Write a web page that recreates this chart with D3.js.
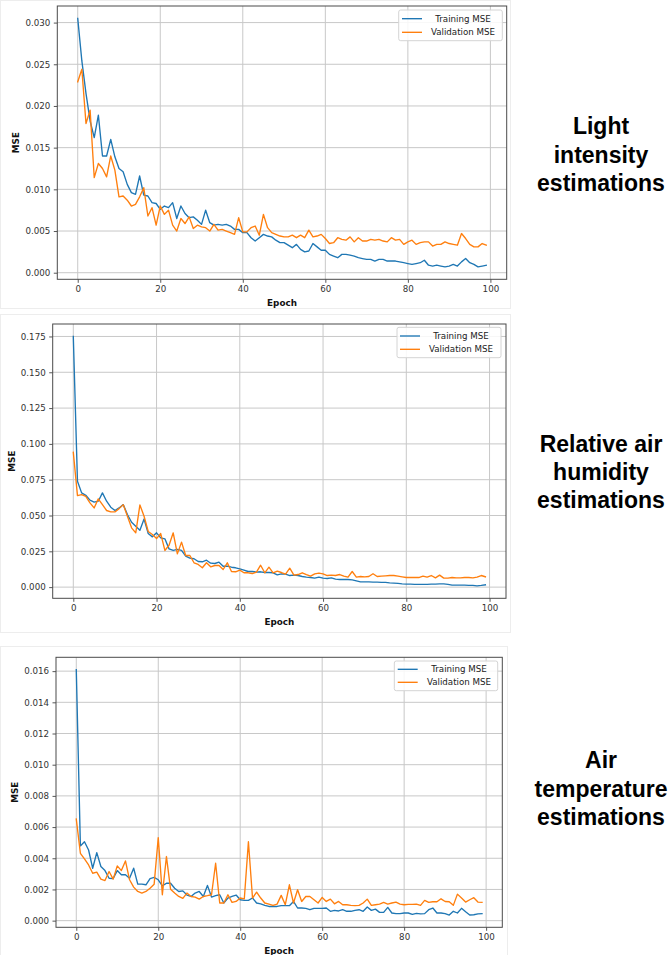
<!DOCTYPE html>
<html>
<head>
<meta charset="utf-8">
<script src="https://cdn.jsdelivr.net/npm/d3@7"></script>
<style>
  body { margin: 0; background: #ffffff; }
  svg { display: block; }
</style>
</head>
<body>
<svg id="chart" width="671" height="955"></svg>
<script>
// Epoch indices shared by every training run
const epochs = d3.range(100);

// Light intensity model: per-epoch MSE
const lightTrain = [
  0.0305,0.0254,0.0215,0.0182,0.0162,0.0189,0.0140,0.0140,0.0160,0.0139,
  0.0125,0.0121,0.0106,0.0096,0.0094,0.0116,0.0093,0.0092,0.0084,0.0083,
  0.0076,0.0080,0.0078,0.0084,0.0065,0.0080,0.0071,0.0066,0.0067,0.0063,
  0.0058,0.0075,0.0060,0.0057,0.0058,0.0057,0.0058,0.0056,0.0052,0.0052,
  0.0048,0.0048,0.0042,0.0038,0.0042,0.0046,0.0044,0.0043,0.0039,0.0036,
  0.0036,0.0033,0.0030,0.0034,0.0028,0.0025,0.0026,0.0035,0.0031,0.0027,
  0.0027,0.0022,0.0020,0.0018,0.0022,0.0022,0.0021,0.0020,0.0018,0.0017,
  0.0016,0.0016,0.0014,0.0016,0.0016,0.0014,0.0014,0.0014,0.0013,0.0012,
  0.0011,0.0010,0.0011,0.0012,0.0015,0.0009,0.0008,0.0009,0.0008,0.0007,
  0.0008,0.0010,0.0008,0.0013,0.0017,0.0012,0.0010,0.0007,0.0008,0.0009
];
const lightVal = [
  0.0229,0.0244,0.0179,0.0195,0.0114,0.0131,0.0125,0.0115,0.0140,0.0123,
  0.0091,0.0092,0.0087,0.0080,0.0082,0.0091,0.0102,0.0068,0.0078,0.0057,
  0.0080,0.0070,0.0075,0.0057,0.0050,0.0065,0.0059,0.0067,0.0053,0.0057,
  0.0055,0.0054,0.0050,0.0058,0.0051,0.0052,0.0050,0.0048,0.0046,0.0066,
  0.0049,0.0049,0.0054,0.0056,0.0045,0.0070,0.0054,0.0048,0.0046,0.0044,
  0.0043,0.0043,0.0045,0.0042,0.0045,0.0042,0.0051,0.0043,0.0044,0.0046,
  0.0041,0.0035,0.0036,0.0042,0.0040,0.0039,0.0043,0.0037,0.0042,0.0038,
  0.0038,0.0040,0.0039,0.0040,0.0038,0.0037,0.0042,0.0039,0.0040,0.0034,
  0.0037,0.0039,0.0034,0.0036,0.0037,0.0037,0.0032,0.0034,0.0034,0.0037,
  0.0035,0.0034,0.0033,0.0047,0.0041,0.0034,0.0031,0.0031,0.0035,0.0033
];

// Relative air humidity model: per-epoch MSE
const humidTrain = [
  0.1750,0.0739,0.0658,0.0641,0.0607,0.0593,0.0600,0.0658,0.0600,0.0558,
  0.0535,0.0553,0.0576,0.0507,0.0453,0.0425,0.0397,0.0476,0.0374,0.0351,
  0.0379,0.0344,0.0337,0.0267,0.0256,0.0263,0.0256,0.0216,0.0202,0.0198,
  0.0179,0.0177,0.0188,0.0167,0.0165,0.0174,0.0146,0.0146,0.0139,0.0135,
  0.0128,0.0119,0.0109,0.0109,0.0105,0.0107,0.0102,0.0102,0.0100,0.0086,
  0.0093,0.0091,0.0081,0.0084,0.0081,0.0074,0.0070,0.0067,0.0063,0.0070,
  0.0063,0.0060,0.0065,0.0056,0.0053,0.0053,0.0053,0.0051,0.0044,0.0037,
  0.0037,0.0037,0.0035,0.0035,0.0033,0.0033,0.0030,0.0028,0.0026,0.0023,
  0.0021,0.0021,0.0019,0.0019,0.0019,0.0019,0.0021,0.0021,0.0023,0.0023,
  0.0019,0.0014,0.0014,0.0014,0.0014,0.0012,0.0012,0.0009,0.0012,0.0016
];
const humidVal = [
  0.0941,0.0639,0.0646,0.0634,0.0588,0.0553,0.0616,0.0576,0.0535,0.0525,
  0.0525,0.0548,0.0576,0.0495,0.0414,0.0379,0.0574,0.0495,0.0388,0.0367,
  0.0339,0.0374,0.0256,0.0292,0.0379,0.0232,0.0314,0.0221,0.0221,0.0170,
  0.0158,0.0135,0.0170,0.0142,0.0151,0.0151,0.0123,0.0170,0.0109,0.0107,
  0.0119,0.0100,0.0100,0.0095,0.0105,0.0153,0.0100,0.0139,0.0100,0.0112,
  0.0102,0.0091,0.0132,0.0084,0.0088,0.0100,0.0088,0.0077,0.0093,0.0098,
  0.0093,0.0081,0.0084,0.0081,0.0088,0.0077,0.0070,0.0109,0.0070,0.0074,
  0.0072,0.0074,0.0093,0.0074,0.0077,0.0079,0.0081,0.0081,0.0077,0.0072,
  0.0067,0.0067,0.0067,0.0067,0.0077,0.0070,0.0081,0.0065,0.0084,0.0063,
  0.0063,0.0067,0.0065,0.0065,0.0067,0.0067,0.0065,0.0070,0.0081,0.0072
];

// Air temperature model: per-epoch MSE
const tempTrain = [
  0.01610,0.00479,0.00506,0.00453,0.00336,0.00436,0.00347,0.00321,0.00272,0.00270,
  0.00321,0.00294,0.00294,0.00272,0.00336,0.00234,0.00234,0.00230,0.00270,0.00277,
  0.00262,0.00223,0.00240,0.00240,0.00208,0.00187,0.00191,0.00164,0.00155,0.00177,
  0.00187,0.00155,0.00226,0.00151,0.00160,0.00166,0.00113,0.00145,0.00155,0.00164,
  0.00134,0.00130,0.00130,0.00145,0.00113,0.00108,0.00098,0.00091,0.00091,0.00091,
  0.00096,0.00096,0.00096,0.00123,0.00081,0.00081,0.00079,0.00070,0.00079,0.00079,
  0.00079,0.00081,0.00060,0.00066,0.00062,0.00070,0.00060,0.00060,0.00066,0.00070,
  0.00060,0.00087,0.00066,0.00074,0.00053,0.00053,0.00085,0.00049,0.00045,0.00045,
  0.00049,0.00049,0.00040,0.00047,0.00043,0.00045,0.00070,0.00081,0.00049,0.00049,
  0.00045,0.00036,0.00060,0.00049,0.00079,0.00057,0.00036,0.00038,0.00043,0.00045
];
const tempVal = [
  0.00651,0.00432,0.00396,0.00357,0.00304,0.00311,0.00266,0.00257,0.00315,0.00266,
  0.00351,0.00321,0.00383,0.00262,0.00215,0.00187,0.00177,0.00187,0.00208,0.00234,
  0.00532,0.00166,0.00411,0.00202,0.00177,0.00155,0.00143,0.00177,0.00155,0.00151,
  0.00138,0.00155,0.00160,0.00166,0.00368,0.00113,0.00113,0.00166,0.00117,0.00123,
  0.00145,0.00140,0.00506,0.00145,0.00183,0.00145,0.00113,0.00106,0.00098,0.00106,
  0.00162,0.00102,0.00230,0.00113,0.00198,0.00123,0.00155,0.00155,0.00134,0.00113,
  0.00149,0.00123,0.00138,0.00108,0.00123,0.00102,0.00102,0.00098,0.00096,0.00098,
  0.00113,0.00138,0.00098,0.00102,0.00106,0.00117,0.00106,0.00113,0.00119,0.00106,
  0.00102,0.00104,0.00104,0.00106,0.00098,0.00130,0.00117,0.00121,0.00121,0.00140,
  0.00123,0.00121,0.00098,0.00170,0.00145,0.00119,0.00134,0.00147,0.00119,0.00117
];

// Axis ticks
const xTicks = [0, 20, 40, 60, 80, 100];
const lightTicks = [0, 0.005, 0.010, 0.015, 0.020, 0.025, 0.030];
const humidTicks = [0, 0.025, 0.050, 0.075, 0.100, 0.125, 0.150, 0.175];
const tempTicks = [0, 0.002, 0.004, 0.006, 0.008, 0.010, 0.012, 0.014, 0.016];

// Legend entries
const seriesNames = ["Training MSE", "Validation MSE"];
const seriesColors = ["#1f77b4", "#ff7f0e"];

// Side captions
const lightTitle = ["Light", "intensity", "estimations"];
const humidTitle = ["Relative air", "humidity", "estimations"];
const tempTitle = ["Air", "temperature", "estimations"];

// Panel layout (axes frame, legend box, caption baselines, image card)
const panels = [
  { series: [lightTrain, lightVal], yTicks: lightTicks, title: lightTitle,
    card: [0.5, 0.5, 510, 308],
    frame: { left: 57.3, right: 506.7, top: 6, bottom: 279.3 },
    legend: { x: 398.7, y: 10, w: 103.6, h: 30.7, lineX: 402, lineY: [18.7, 32.3], textX: 463 },
    titleY: [134.3, 163.3, 191.3] },
  { series: [humidTrain, humidVal], yTicks: humidTicks, title: humidTitle,
    card: [0.5, 314.5, 510, 318],
    frame: { left: 52.7, right: 506, top: 324, bottom: 598.3 },
    legend: { x: 397, y: 327.3, w: 104, h: 30.4, lineX: 400, lineY: [336, 349.3], textX: 461 },
    titleY: [452, 480.3, 508.3] },
  { series: [tempTrain, tempVal], yTicks: tempTicks, title: tempTitle,
    card: [0.5, 646.5, 507, 320],
    frame: { left: 56, right: 502.3, top: 657.3, bottom: 927.3 },
    legend: { x: 394.3, y: 661, w: 103.4, h: 29.7, lineX: 397.7, lineY: [669.3, 682.3], textX: 459 },
    titleY: [768.3, 797, 825.3] }
];

const svg = d3.select("#chart");
const tickFont = "DejaVu Sans, sans-serif";
const fmt = d3.format(".3f");

panels.forEach(p => {
  const f = p.frame;
  const g = svg.append("g");

  // faint image card outline
  g.append("rect")
    .attr("x", p.card[0]).attr("y", p.card[1])
    .attr("width", p.card[2]).attr("height", p.card[3])
    .attr("fill", "none").attr("stroke", "#ededed").attr("stroke-width", 1);

  // matplotlib-style 5% data margins
  const all = p.series[0].concat(p.series[1]);
  const yMin = d3.min(all), yMax = d3.max(all);
  const yPad = (yMax - yMin) * 0.05;
  const xPad = (d3.max(epochs) - d3.min(epochs)) * 0.05;

  const x = d3.scaleLinear()
    .domain([d3.min(epochs) - xPad, d3.max(epochs) + xPad])
    .range([f.left, f.right]);
  const y = d3.scaleLinear()
    .domain([yMin - yPad, yMax + yPad])
    .range([f.bottom, f.top]);

  // grid
  const grid = g.append("g").attr("stroke", "#c8c8c8").attr("stroke-width", 1);
  grid.selectAll("line.v").data(xTicks).join("line")
    .attr("class", "v")
    .attr("x1", d => x(d)).attr("x2", d => x(d))
    .attr("y1", f.top).attr("y2", f.bottom);
  grid.selectAll("line.h").data(p.yTicks).join("line")
    .attr("class", "h")
    .attr("x1", f.left).attr("x2", f.right)
    .attr("y1", d => y(d)).attr("y2", d => y(d));

  // axes
  const xAxis = g.append("g")
    .attr("transform", `translate(0,${f.bottom})`)
    .call(d3.axisBottom(x).tickValues(xTicks).tickFormat(d3.format("d"))
      .tickSize(3.5).tickPadding(3.5));
  const yAxis = g.append("g")
    .attr("transform", `translate(${f.left},0)`)
    .call(d3.axisLeft(y).tickValues(p.yTicks).tickFormat(fmt)
      .tickSize(3.5).tickPadding(3.5));
  [xAxis, yAxis].forEach(a => {
    a.select(".domain").remove();
    a.selectAll(".tick line").attr("stroke", "#444").attr("stroke-width", 0.9);
    a.selectAll(".tick text")
      .attr("fill", "#333")
      .style("font-family", tickFont)
      .style("font-size", "8.7px");
  });

  // series lines
  const line = d3.line()
    .x((d, i) => x(epochs[i]))
    .y(d => y(d));
  p.series.forEach((s, k) => {
    g.append("path")
      .datum(s)
      .attr("d", line)
      .attr("fill", "none")
      .attr("stroke", seriesColors[k])
      .attr("stroke-width", 1.35)
      .attr("stroke-linejoin", "round")
      .attr("stroke-linecap", "square");
  });

  // axes frame
  g.append("rect")
    .attr("x", f.left).attr("y", f.top)
    .attr("width", f.right - f.left).attr("height", f.bottom - f.top)
    .attr("fill", "none").attr("stroke", "#4a4a4a").attr("stroke-width", 1);

  // axis labels
  g.append("text")
    .attr("x", (f.left + f.right) / 2)
    .attr("y", f.bottom + 27)
    .attr("text-anchor", "middle")
    .style("font-family", tickFont).style("font-size", "8.8px").style("font-weight", "bold")
    .attr("fill", "#111")
    .text("Epoch");
  g.append("text")
    .attr("transform", `translate(${f.left - 41},${(f.top + f.bottom) / 2}) rotate(-90)`)
    .attr("text-anchor", "middle")
    .attr("dy", "0.35em")
    .style("font-family", tickFont).style("font-size", "8.8px").style("font-weight", "bold")
    .attr("fill", "#111")
    .text("MSE");

  // legend
  const L = p.legend;
  const lg = g.append("g");
  lg.append("rect")
    .attr("x", L.x).attr("y", L.y).attr("width", L.w).attr("height", L.h)
    .attr("rx", 2).attr("ry", 2)
    .attr("fill", "#ffffff").attr("fill-opacity", 0.85)
    .attr("stroke", "#d4d4d4").attr("stroke-width", 1);
  seriesNames.forEach((name, k) => {
    lg.append("line")
      .attr("x1", L.lineX).attr("x2", L.lineX + 20)
      .attr("y1", L.lineY[k]).attr("y2", L.lineY[k])
      .attr("stroke", seriesColors[k]).attr("stroke-width", 1.35);
    lg.append("text")
      .attr("x", L.textX).attr("y", L.lineY[k])
      .attr("dy", "0.35em")
      .attr("text-anchor", "middle")
      .style("font-family", tickFont).style("font-size", "8.7px")
      .attr("fill", "#222")
      .text(name);
  });

  // side caption
  const cap = svg.append("text")
    .attr("text-anchor", "middle")
    .style("font-family", "Liberation Sans, Arial, sans-serif")
    .style("font-size", "23px").style("font-weight", "bold")
    .attr("fill", "#000");
  p.title.forEach((t, k) => {
    cap.append("tspan").attr("x", 601).attr("y", p.titleY[k]).text(t);
  });
});
</script>
</body>
</html>
